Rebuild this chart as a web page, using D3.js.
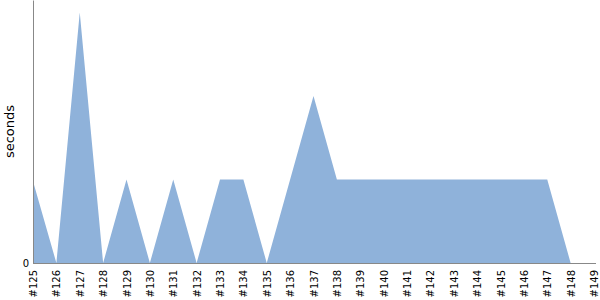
<!DOCTYPE html>
<html>
<head>
<meta charset="UTF-8">
<script src="https://d3js.org/d3.v7.min.js"></script>
<style>
    body { margin: 0; background: #fff; }
    svg { display: block; font-family: "DejaVu Sans", sans-serif; }
    .axis path { stroke: #888; }
    .axis line { display: none; }
</style>
</head>
<body>
<div id="chart"></div>
<script>
    // build ids #125 .. #149
    const builds = ["#125", "#126", "#127", "#128", "#129", "#130", "#131", "#132", "#133",
        "#134", "#135", "#136", "#137", "#138", "#139", "#140", "#141", "#142", "#143",
        "#144", "#145", "#146", "#147", "#148", "#149"];
    const seconds = [0.98, 0, 3, 0, 1, 0, 1, 0, 1, 1, 0, 1, 2, 1, 1, 1, 1, 1, 1, 1, 1, 1, 1, 0, 0];
    const yTicks = [0];

    const width = 600, height = 300;
    const margin = { left: 33, right: 594, top: 0, bottom: 263 };

    const svg = d3.select("#chart").append("svg")
        .attr("width", width)
        .attr("height", height);

    const data = builds.map((b, i) => ({ build: b, value: seconds[i] }));

    const x = d3.scalePoint().domain(builds).range([margin.left, margin.right]);
    const y = d3.scaleLinear().domain([0, d3.max(seconds) * 1.05]).range([margin.bottom, margin.top]);

    const area = d3.area()
        .x(d => x(d.build))
        .y0(y(0))
        .y1(d => y(d.value));

    svg.append("path")
        .datum(data)
        .attr("fill", "#8fb2da")
        .attr("d", area);

    // x axis
    const gx = svg.append("g")
        .attr("class", "axis")
        .attr("transform", `translate(0,${margin.bottom})`)
        .call(d3.axisBottom(x).tickSizeOuter(0).tickSize(0))
        .attr("font-family", null);
    gx.select(".domain").attr("d", `M${margin.left},0.5H${margin.right + 2}`);
    gx.selectAll("text")
        .attr("font-size", 10)
        .attr("fill", "#000")
        .attr("transform", "rotate(-90)")
        .attr("text-anchor", "end")
        .attr("x", -7)
        .attr("y", 0)
        .attr("dy", "0.35em");

    // y axis
    const gy = svg.append("g")
        .attr("class", "axis")
        .attr("transform", `translate(${margin.left},0)`)
        .call(d3.axisLeft(y).tickValues(yTicks).tickFormat(d3.format("d")).tickSizeOuter(0).tickSize(0))
        .attr("font-family", null);
    gy.selectAll("text")
        .attr("font-size", 10)
        .attr("fill", "#000")
        .attr("x", -4);

    svg.append("text")
        .attr("transform", `translate(14,${(margin.top + margin.bottom) / 2}) rotate(-90)`)
        .attr("text-anchor", "middle")
        .attr("font-size", 13)
        .text("seconds");
</script>
</body>
</html>
